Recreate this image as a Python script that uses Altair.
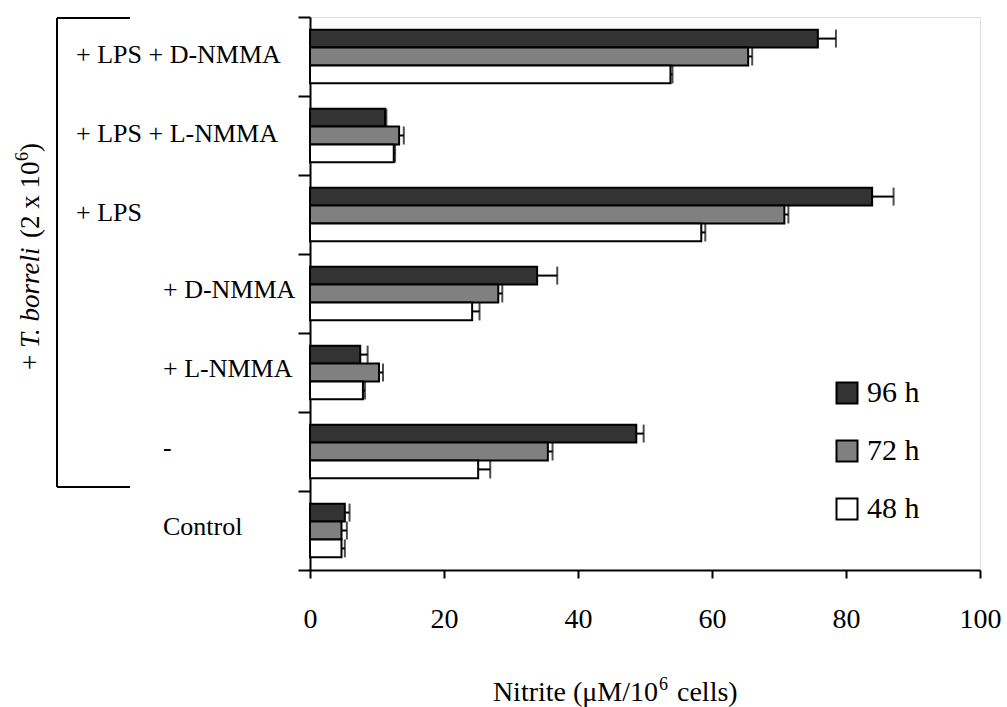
import altair as alt
import pandas as pd

categories = ["+ LPS + D-NMMA", "+ LPS + L-NMMA", "+ LPS", "+ D-NMMA", "+ L-NMMA", "-", "Control"]
times = ["96 h", "72 h", "48 h"]
nitrite_96 = [75.8, 11.2, 83.9, 33.9, 7.5, 48.7, 5.2]
err_96 = [2.7, 0.2, 3.2, 3.0, 1.1, 1.1, 0.7]
nitrite_72 = [65.4, 13.3, 70.8, 28.1, 10.3, 35.5, 4.7]
err_72 = [0.6, 0.7, 0.6, 0.6, 0.6, 0.7, 0.8]
nitrite_48 = [53.8, 12.5, 58.4, 24.2, 7.9, 25.1, 4.7]
err_48 = [0.3, 0.2, 0.6, 1.1, 0.3, 1.8, 0.5]
x_ticks = [0, 20, 40, 60, 80, 100]
lps_labels = categories[:3]
other_labels = categories[3:]
fill_colors = ["#333333", "#808080", "#ffffff"]

rows = []
for t, vals, errs in zip(times, [nitrite_96, nitrite_72, nitrite_48], [err_96, err_72, err_48]):
    for c, v, e in zip(categories, vals, errs):
        rows.append({"group": c, "time": t, "value": v, "hi": round(v + e, 2)})
df = pd.DataFrame(rows)
lab_df = pd.DataFrame({"group": categories})
one = pd.DataFrame({"k": [0]})

W, H = 670, 553
FONT = "Liberation Serif"

y_enc = alt.Y(
    "group:N", sort=categories,
    scale=alt.Scale(paddingInner=0, paddingOuter=0),
    axis=alt.Axis(labels=False, title=None, ticks=True, tickSize=12, tickWidth=2,
                  domainWidth=2, domainColor="black", tickColor="black",
                  bandPosition=1, tickExtra=True, grid=False),
)
yoff = alt.YOffset("time:N", sort=times, scale=alt.Scale(paddingInner=0, paddingOuter=0.705))
x_scale = alt.Scale(domain=[0, 100], nice=False, zero=True)
x_enc = alt.X(
    "value:Q", scale=x_scale,
    axis=alt.Axis(values=x_ticks, title=None, tickSize=8, tickWidth=2, domainWidth=2,
                  labelFont=FONT, labelFontSize=28, labelPadding=27, labelColor="black",
                  domainColor="black", tickColor="black", grid=False, labelFlush=False),
)

bars = alt.Chart(df).mark_bar(stroke="black", strokeWidth=2, opacity=1).encode(
    x=x_enc, y=y_enc, yOffset=yoff,
    color=alt.Color(
        "time:N", sort=times, scale=alt.Scale(domain=times, range=fill_colors),
        legend=alt.Legend(orient="none", legendX=522, legendY=361, title=None,
                          symbolType="square", symbolSize=441, symbolStrokeColor="black",
                          symbolStrokeWidth=2, symbolOpacity=1, labelFont=FONT,
                          labelFontSize=30, labelOffset=5, rowPadding=28, labelColor="black",
                          padding=0),
    ),
)

err_lines = alt.Chart(df).mark_rule(color="black", strokeWidth=2).encode(
    x=alt.X("value:Q", scale=x_scale), x2="hi:Q", y=y_enc, yOffset=yoff
)
caps = alt.Chart(df).mark_tick(color="black", thickness=2, size=18, orient="vertical").encode(
    x=alt.X("hi:Q", scale=x_scale), y=y_enc, yOffset=yoff
)

lab_a = alt.Chart(lab_df).transform_filter(
    alt.FieldOneOfPredicate(field="group", oneOf=lps_labels)
).mark_text(align="left", baseline="middle", font=FONT, fontSize=26, color="black", dy=-2).encode(
    y=y_enc, x=alt.value(-234), text="group:N"
)
lab_b = alt.Chart(lab_df).transform_filter(
    alt.FieldOneOfPredicate(field="group", oneOf=other_labels)
).mark_text(align="left", baseline="middle", font=FONT, fontSize=26, color="black", dy=-4).encode(
    y=y_enc, x=alt.value(-147), text="group:N"
)


def piece(txt, x, y, size, angle=0, style="normal", align="left", baseline="alphabetic"):
    return alt.Chart(pd.DataFrame({"t": [txt]})).mark_text(
        align=align, baseline=baseline, font=FONT, fontSize=size, fontStyle=style,
        angle=angle, color="black"
    ).encode(text="t:N", x=alt.value(x), y=alt.value(y))


def rule(x, y, x2=None, y2=None):
    enc = {"x": alt.value(x), "y": alt.value(y)}
    if x2 is not None:
        enc["x2"] = alt.value(x2)
    if y2 is not None:
        enc["y2"] = alt.value(y2)
    return alt.Chart(one).mark_rule(color="black", strokeWidth=2).encode(**enc)


bracket = [
    rule(-253, 1, y2=470),
    rule(-253, 1, x2=-180),
    rule(-253, 470, x2=-180),
]

rx = -279
side_title = [
    piece("+", rx, 353, 27, angle=270, baseline="middle"),
    piece("T. borreli", rx, 331, 27, angle=270, style="italic", baseline="middle"),
    piece("(2 x 10", rx, 221, 27, angle=270, baseline="middle"),
    piece("6", rx - 8, 144, 18, angle=270, baseline="middle"),
    piece(")", rx, 135, 27, angle=270, baseline="middle"),
]

x_title = [
    piece("Nitrite (\u03bcM/10", 348, 684, 28, align="right"),
    piece("6", 349, 673, 18),
    piece("cells)", 367, 684, 28),
]

chart = alt.layer(
    bars, err_lines, caps, lab_a, lab_b, *bracket, *side_title, *x_title
).properties(
    width=W, height=H,
    autosize=alt.AutoSizeParams(type="none"),
    padding={"left": 310, "top": 17, "right": 27, "bottom": 137},
).configure_view(stroke=None).configure(font=FONT)

chart.save("out.html", embed_options={"renderer": "svg", "actions": False})
